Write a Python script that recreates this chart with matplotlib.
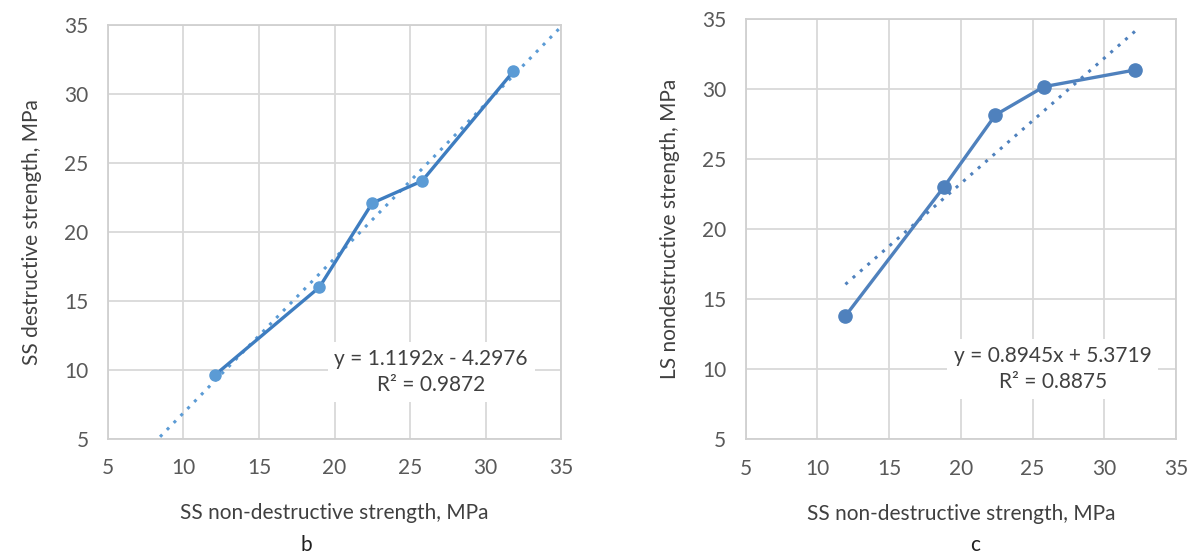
import matplotlib
matplotlib.use("Agg")
import matplotlib.pyplot as plt
import numpy as np

plt.rcParams['font.family'] = ['Lato', 'DejaVu Sans']

# Panel b data
xb = [12.1, 19.0, 22.5, 25.8, 31.85]
yb = [9.65, 16.0, 22.1, 23.7, 31.65]
slope_b, icpt_b = 1.1192, -4.2976
trend_b_range = [8.45, 35.0]
eq_b = "y = 1.1192x - 4.2976\nR² = 0.9872"

# Panel c data
xc = [11.95, 18.83, 22.41, 25.8, 32.15]
yc = [13.8, 23.03, 28.15, 30.17, 31.36]
slope_c, icpt_c = 0.8945, 5.3719
trend_c_range = [11.95, 32.15]
eq_c = "y = 0.8945x + 5.3719\nR² = 0.8875"

ticks = [5, 10, 15, 20, 25, 30, 35]
xlabel = "SS non-destructive strength, MPa"
ylabel_b = "SS destructive strength, MPa"
ylabel_c = "LS nondestructive strength, MPa"

fig = plt.figure(figsize=(11.97, 5.56), dpi=100)
axb = fig.add_axes([0.0902, 0.2104, 0.3785, 0.7446])
axc = fig.add_axes([0.623, 0.2099, 0.3595, 0.756])

def style(ax):
    ax.set_xlim(5, 35)
    ax.set_ylim(5, 35)
    ax.set_xticks(ticks)
    ax.set_yticks(ticks)
    ax.grid(True, color='#d9d9d9', linewidth=1.3)
    ax.set_axisbelow(True)
    for s in ax.spines.values():
        s.set_color('#d0d0d0')
        s.set_linewidth(1.3)
    ax.tick_params(length=0, labelsize=15, colors='#595959', pad=14)
    ax.set_xlabel(xlabel, fontsize=15, color='#404040', labelpad=18)

style(axb)
style(axc)

# Panel b
tx = np.array(trend_b_range)
axb.plot(tx, slope_b * tx + icpt_b, linestyle=(0, (1, 2.2)), color='#5b9bd5', linewidth=2.2, zorder=2)
axb.plot(xb, yb, color='#3e7dc0', linewidth=2.4, marker='o', markersize=8,
         markerfacecolor='#5b9bd5', markeredgecolor='#5b9bd5', zorder=3)
axb.set_ylabel(ylabel_b, fontsize=15, color='#404040', labelpad=16)
axb.text(26.4, 9.85, eq_b, ha='center', va='center', fontsize=15, color='#404040',
         linespacing=1.4, bbox=dict(facecolor='white', edgecolor='none', pad=5), zorder=4)

# Panel c
tc = np.array(trend_c_range)
axc.plot(tc, slope_c * tc + icpt_c, linestyle=(0, (1, 2.2)), color='#4f81bd', linewidth=2.2, zorder=2)
axc.plot(xc, yc, color='#4f81bd', linewidth=2.4, marker='o', markersize=9.5,
         markerfacecolor='#4f81bd', markeredgecolor='#4f81bd', zorder=3)
axc.set_ylabel(ylabel_c, fontsize=15, color='#404040', labelpad=16)
axc.text(26.4, 10.0, eq_c, ha='center', va='center', fontsize=15, color='#404040',
         linespacing=1.4, bbox=dict(facecolor='white', edgecolor='none', pad=5), zorder=4)

fig.text(306/1197, 1 - 545/556, "b", ha='center', va='center', fontsize=15, color='#202020')
fig.text(975/1197, 1 - 545/556, "c", ha='center', va='center', fontsize=15, color='#202020')

fig.savefig("out.png", dpi=100, facecolor='white')
